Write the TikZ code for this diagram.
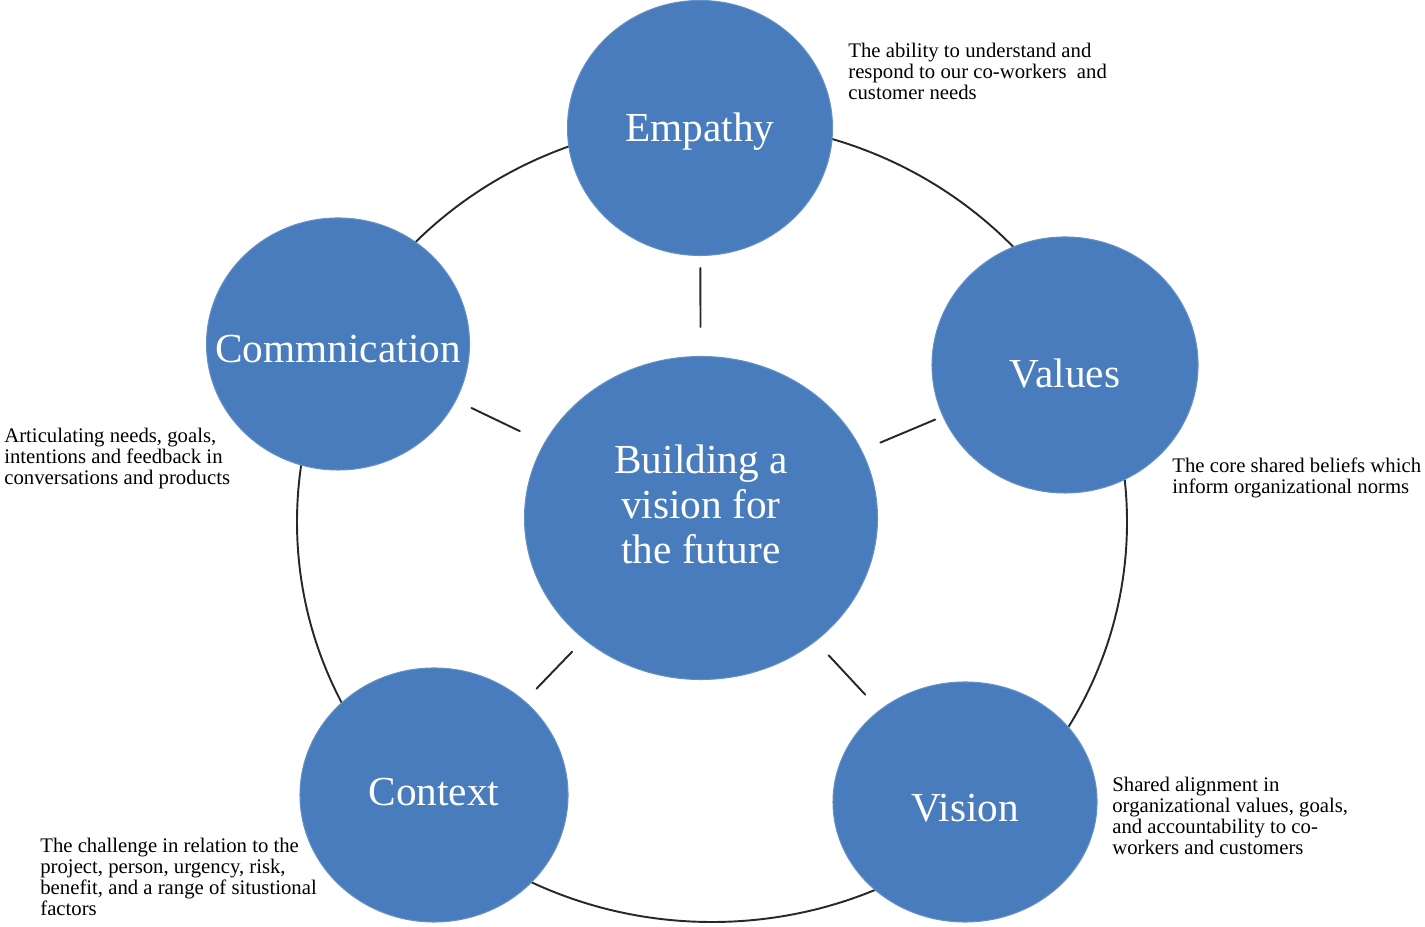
\documentclass[tikz,border=0pt]{standalone}
\usepackage{fontspec}
\setmainfont{Liberation Serif}
\usetikzlibrary{shapes.geometric}
\definecolor{discblue}{RGB}{72,124,188}
\definecolor{ringgray}{RGB}{40,40,40}

\begin{document}
\begin{tikzpicture}[
  disc/.style={ellipse, fill=discblue, draw=discblue!85!white, line width=0.6pt,
    inner sep=0pt},
  disctext/.style={text=white, align=center, inner sep=0pt,
    font=\fontsize{23.5}{25.6}\selectfont},
  note/.style={anchor=north west, inner sep=0pt, align=left,
    font=\fontsize{11.8}{11.9}\selectfont},
  spoke/.style={draw=ringgray, line width=1.1pt, line cap=round}]
\useasboundingbox (0,0) rectangle (28.5,18.54);

% outer ring
\draw[ringgray, line width=1.1pt] (14.24,8.1) ellipse (8.3cm and 8.0cm);

% discs
\node[disc, minimum width=7.06cm, minimum height=6.46cm,
  label={[disctext, yshift=0.27cm]center:Building a\\vision for\\the future}] (ctr) at (14.02,8.18) {};
\node[disc, minimum width=5.3cm, minimum height=5.1cm,
  label={[disctext, yshift=-0.08cm]center:Empathy}] (emp) at (14.0,15.98) {};
\node[disc, minimum width=5.26cm, minimum height=5.04cm,
  label={[disctext, yshift=-0.1cm]center:Commnication}] (com) at (6.76,11.66) {};
\node[disc, minimum width=5.32cm, minimum height=5.12cm,
  label={[disctext, yshift=-0.16cm]center:Values}] (val) at (21.3,11.24) {};
\node[disc, minimum width=5.36cm, minimum height=5.08cm,
  label={[disctext, yshift=0.05cm]center:Context}] (con) at (8.68,2.64) {};
\node[disc, minimum width=5.28cm, minimum height=4.8cm,
  label={[disctext, yshift=-0.12cm]center:Vision}] (vis) at (19.3,2.5) {};

% spokes
\draw[spoke, shorten <=0.58cm, shorten >=0.24cm] (ctr) -- (emp);
\draw[spoke, shorten <=0.54cm, shorten >=0.34cm] (ctr) -- (com);
\draw[spoke, shorten <=0.4cm, shorten >=0.16cm] (ctr) -- (val);
\draw[spoke, shorten <=0.34cm, shorten >=0.34cm] (ctr) -- (con);
\draw[spoke, shorten <=0.38cm, shorten >=0.42cm] (ctr) -- (vis);

% notes
\node[note] (empnote) at (16.96,17.68) {The ability to understand and\\respond to our co-workers~ and\\customer needs};
\node[note] (comnote) at (0.08,9.98) {Articulating needs, goals,\\intentions and feedback in\\conversations and products};
\node[note] (valnote) at (23.44,9.38) {The core shared beliefs which\\inform organizational norms};
\node[note] (visnote) at (22.24,3.0) {Shared alignment in\\organizational values, goals,\\and accountability to co-\\workers and customers};
\node[note] (connote) at (0.8,1.78) {The challenge in relation to the\\project, person, urgency, risk,\\benefit, and a range of situstional\\factors};
\end{tikzpicture}
\end{document}
